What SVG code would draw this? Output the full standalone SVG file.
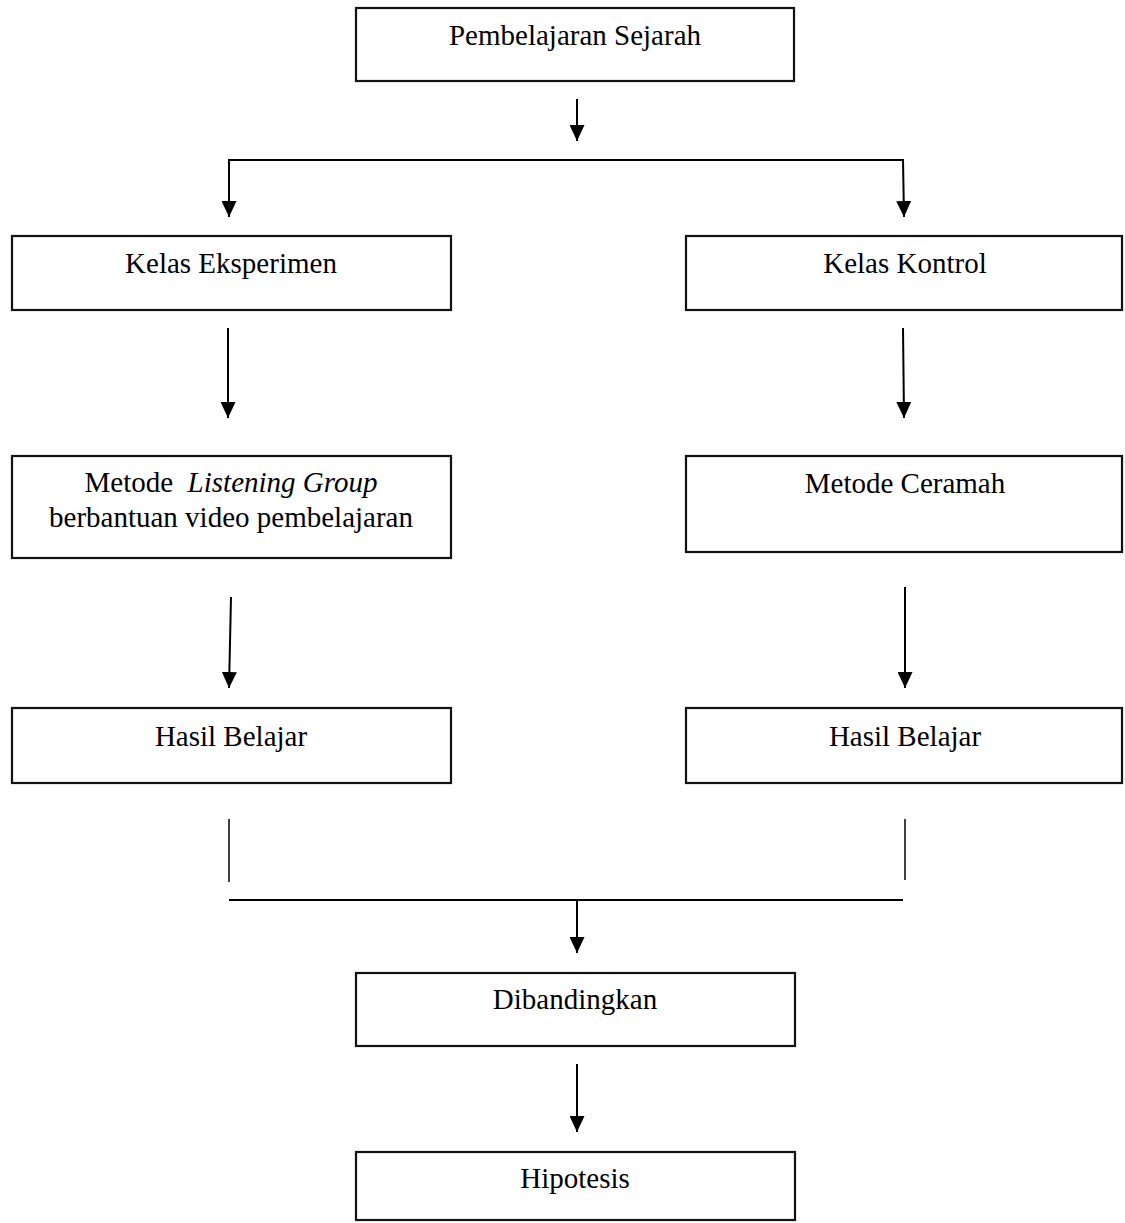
<svg xmlns="http://www.w3.org/2000/svg" width="1125" height="1223" viewBox="0 0 1125 1223">
<style>
.box{fill:#fff;stroke:#111;stroke-width:2.2}
.t{font-family:"Liberation Serif","Times New Roman",serif;font-size:29px;fill:#000;text-anchor:middle}
.c{fill:none;stroke:#000;stroke-width:2}
.thin{fill:none;stroke:#000;stroke-width:1.5}
</style>
<defs>
<marker id="ah" markerUnits="userSpaceOnUse" markerWidth="16" markerHeight="15" refX="16" refY="7.5" orient="auto">
<path d="M0,0 L16,7.5 L0,15 Z" fill="#000"/>
</marker>
</defs>
<rect width="1125" height="1223" fill="#fff"/>
<g id="connectors">
<line class="c" x1="577" y1="99" x2="577" y2="141" marker-end="url(#ah)"/>
<polyline class="c" points="229,217 229,160 903,160 904,217" marker-end="url(#ah)"/>
<polyline class="c" points="229,160 229,217" marker-end="url(#ah)"/>
<line class="c" x1="228" y1="328" x2="228" y2="418" marker-end="url(#ah)"/>
<line class="c" x1="903" y1="328" x2="904" y2="418" marker-end="url(#ah)"/>
<line class="c" x1="231" y1="597" x2="229" y2="688" marker-end="url(#ah)"/>
<line class="c" x1="905" y1="587" x2="905" y2="688" marker-end="url(#ah)"/>
<line class="thin" x1="229" y1="819" x2="229" y2="882"/>
<line class="thin" x1="905" y1="819" x2="905" y2="880"/>
<line class="c" x1="229" y1="900" x2="903" y2="900"/>
<line class="c" x1="577" y1="900" x2="577" y2="953" marker-end="url(#ah)"/>
<line class="c" x1="577" y1="1064" x2="577" y2="1132" marker-end="url(#ah)"/>
</g>
<g id="n-pembelajaran"><rect class="box" x="356" y="8" width="438" height="73"/><text class="t" x="575" y="45">Pembelajaran Sejarah</text></g>
<g id="n-kelas-eksperimen"><rect class="box" x="12" y="236" width="439" height="74"/><text class="t" x="231" y="273">Kelas Eksperimen</text></g>
<g id="n-kelas-kontrol"><rect class="box" x="686" y="236" width="436" height="74"/><text class="t" x="905" y="273">Kelas Kontrol</text></g>
<g id="n-metode-lg"><rect class="box" x="12" y="456" width="439" height="102"/><text class="t" x="231" y="492" xml:space="preserve">Metode  <tspan font-style="italic">Listening Group</tspan></text><text class="t" x="231" y="527">berbantuan video pembelajaran</text></g>
<g id="n-metode-ceramah"><rect class="box" x="686" y="456" width="436" height="96"/><text class="t" x="905" y="493">Metode Ceramah</text></g>
<g id="n-hasil-1"><rect class="box" x="12" y="708" width="439" height="75"/><text class="t" x="231" y="746">Hasil Belajar</text></g>
<g id="n-hasil-2"><rect class="box" x="686" y="708" width="436" height="75"/><text class="t" x="905" y="746">Hasil Belajar</text></g>
<g id="n-dibandingkan"><rect class="box" x="356" y="973" width="439" height="73"/><text class="t" x="575" y="1009">Dibandingkan</text></g>
<g id="n-hipotesis"><rect class="box" x="356" y="1152" width="439" height="68"/><text class="t" x="575" y="1188">Hipotesis</text></g>
</svg>
